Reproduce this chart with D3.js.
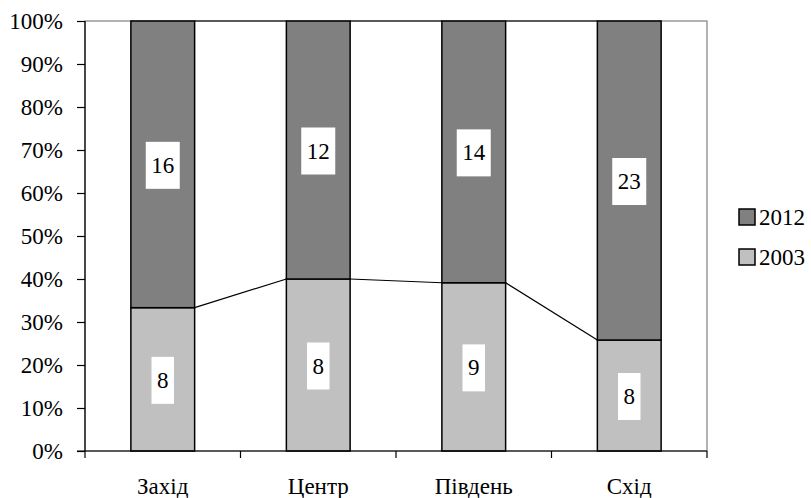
<!DOCTYPE html>
<html><head><meta charset="utf-8">
<script src="https://cdn.jsdelivr.net/npm/d3@7"></script>
<style>body{margin:0;background:#fff}svg{display:block}text{font-family:"Liberation Serif";fill:#000}</style>
</head><body><svg id="c" width="811" height="498"></svg>
<script>
const categories = ["Захід","Центр","Південь","Схід"];
const values2003 = [8, 8, 9, 8];
const values2012 = [16, 12, 14, 23];
const yTicks = [0,0.1,0.2,0.3,0.4,0.5,0.6,0.7,0.8,0.9,1];
const legendLabels = ["2012","2003"];

const svg = d3.select("#c");
const L=85, R=707, T=21, B=451, FS=23, FF='"Liberation Serif"';
const x = d3.scaleBand().domain(categories).range([L,R]).paddingInner(0.59).paddingOuter(0.295);
const y = d3.scaleLinear().domain([0,1]).range([B,T]);
const bw = x.bandwidth();
const data = categories.map((c,i)=>{const t=values2003[i]+values2012[i];return {c, a:values2003[i], b:values2012[i], p:values2003[i]/t};});

// plot border (gray)
svg.append("rect").attr("x",L).attr("y",T).attr("width",R-L).attr("height",B-T).attr("fill","none").attr("stroke","#808080").attr("stroke-width",1.2);

// series lines
for(let i=0;i<data.length-1;i++){
  const x1=x(data[i].c)+bw, x2=x(data[i+1].c);
  svg.append("line").attr("x1",x1).attr("x2",x2).attr("y1",y(data[i].p)).attr("y2",y(data[i+1].p)).attr("stroke","#000").attr("stroke-width",1.2);
  svg.append("line").attr("x1",x1).attr("x2",x2).attr("y1",y(1)).attr("y2",y(1)).attr("stroke","#000").attr("stroke-width",1.2);
}

// bars
const g = svg.append("g");
data.forEach(d=>{
  g.append("rect").attr("x",x(d.c)).attr("width",bw).attr("y",y(d.p)).attr("height",y(0)-y(d.p)).attr("fill","#c0c0c0").attr("stroke","#000").attr("stroke-width",1.5);
  g.append("rect").attr("x",x(d.c)).attr("width",bw).attr("y",y(1)).attr("height",y(d.p)-y(1)).attr("fill","#808080").attr("stroke","#000").attr("stroke-width",1.5);
});
// labels
function label(cx, cy, txt){
  const t = svg.append("text").attr("x",cx).attr("y",cy).attr("text-anchor","middle").attr("dominant-baseline","central").style("font-family",FF).style("font-size",FS+"px").text(txt);
  const w = t.node().getComputedTextLength();
  svg.insert("rect", function(){return t.node();}).attr("x",cx-w/2-5.5).attr("y",cy-23.5).attr("width",w+11).attr("height",47).attr("fill","#fff");
}
data.forEach(d=>{
  const cx = x(d.c)+bw/2;
  label(cx, (y(0)+y(d.p))/2+1, d.a);
  label(cx, (y(d.p)+y(1))/2+1, d.b);
});

// y axis
const ya = svg.append("g").attr("transform",`translate(${L},0)`).call(d3.axisLeft(y).tickValues(yTicks).tickFormat(d3.format(".0%")).tickSize(8).tickPadding(14));
ya.attr("font-family",null).attr("font-size",null);
ya.selectAll("text").style("font-size",FS+"px").style("font-family",FF);
ya.selectAll("line,path").attr("stroke","#000").attr("stroke-width",1.2);
ya.select(".domain").attr("d",`M0,${B}V${T}`);

// x axis
const xa = svg.append("g").attr("transform",`translate(0,${B})`);
xa.append("line").attr("x1",L-8).attr("x2",R).attr("stroke","#000").attr("stroke-width",1.2);
const bounds = categories.map((c,i)=>L+i*(R-L)/categories.length).concat([R]);
bounds.forEach(b=>xa.append("line").attr("x1",b).attr("x2",b).attr("y1",0).attr("y2",7).attr("stroke","#000").attr("stroke-width",1.2));
categories.forEach(c=>xa.append("text").attr("x",x(c)+bw/2).attr("y",43).attr("text-anchor","middle").style("font-family",FF).style("font-size",FS+"px").text(c));

// legend
const colors = {"2012":"#808080","2003":"#c0c0c0"};
legendLabels.forEach((l,i)=>{
  const ly = 217 + i*40;
  svg.append("rect").attr("x",739).attr("y",ly-8).attr("width",16).attr("height",16).attr("fill",colors[l]).attr("stroke","#000").attr("stroke-width",1.5);
  svg.append("text").attr("x",759).attr("y",ly).attr("dominant-baseline","central").style("font-family",FF).style("font-size",FS+"px").text(l);
});
</script></body></html>
